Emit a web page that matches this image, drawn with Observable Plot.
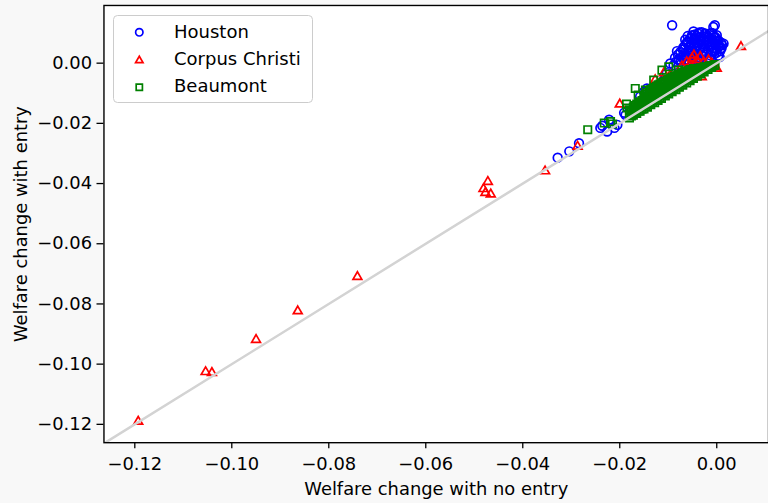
<!DOCTYPE html>
<html>
<head>
<meta charset="utf-8">
<script src="https://cdn.jsdelivr.net/npm/d3@7"></script>
<script src="https://cdn.jsdelivr.net/npm/@observablehq/plot@0.6"></script>
<style>
  body { margin: 0; background: #f8f8f8; }
  #wrap { position: relative; width: 768px; height: 503px; overflow: hidden; font-family: "DejaVu Sans", sans-serif; }
  #wrap > svg.chart { position: absolute; left: 0; top: 0; }
  #wrap > svg#legend { position: absolute; left: 113px; top: 15px; }
</style>
</head>
<body>
<div id="wrap"></div>
<script>
// Series names and colours
const seriesNames = ["Houston", "Corpus Christi", "Beaumont"];
const seriesColors = ["#0000ff", "#ff0000", "#008000"];
const seriesSymbols = ["circle", "triangle", "square"];

// Houston: [welfare change with no entry, welfare change with entry]
const houston = [
  [-0.0328,-0.0314],[-0.0304,-0.0293],[-0.0284,-0.0266],[-0.0240,-0.0215],[-0.0236,-0.0208],
  [-0.0226,-0.0227],[-0.0222,-0.0188],[-0.0211,-0.0215],[-0.0205,-0.0205],[-0.0191,-0.0165],
  [-0.0188,-0.0172],[-0.0171,-0.0155],[-0.0158,-0.0111],[-0.0150,-0.0095],[-0.0144,-0.0084],
  [-0.0137,-0.0096],[-0.0120,-0.0073],[-0.0109,-0.0056],[-0.0103,-0.0033],[-0.0096,-0.0001],
  [-0.0089,-0.0007],[-0.0092,0.0126],[-0.0079,0.0010],[-0.0075,0.0037],[-0.0065,0.0078],
  [-0.0051,0.0093],[-0.0038,0.0098],[-0.0031,0.0103],[-0.0024,0.0098],[-0.0014,0.0099],
  [-0.0007,0.0120],[-0.0004,0.0126],[0.0000,0.0093],[-0.0004,0.0087],[0.0014,0.0065],
  [0.0004,0.0054],
  [-0.0072,0.0020],[-0.0070,0.0045],[-0.0068,0.0030],[-0.0065,0.0060],[-0.0063,0.0012],
  [-0.0061,0.0038],[-0.0059,0.0072],[-0.0057,0.0025],[-0.0055,0.0052],[-0.0053,0.0085],
  [-0.0051,0.0015],[-0.0049,0.0040],[-0.0047,0.0066],[-0.0045,0.0095],[-0.0043,0.0028],
  [-0.0041,0.0055],[-0.0039,0.0078],[-0.0037,0.0010],[-0.0035,0.0045],[-0.0033,0.0088],
  [-0.0031,0.0062],[-0.0029,0.0022],[-0.0027,0.0075],[-0.0025,0.0050],[-0.0023,0.0098],
  [-0.0021,0.0035],[-0.0019,0.0068],[-0.0017,0.0085],[-0.0015,0.0018],[-0.0013,0.0055],
  [-0.0011,0.0040],[-0.0009,0.0078],[-0.0007,0.0092],[-0.0005,0.0030],[-0.0003,0.0062],
  [-0.0001,0.0048],[0.0001,0.0072],[0.0003,0.0025],[0.0005,0.0058],[0.0007,0.0040],
  [0.0009,0.0068],[-0.0060,0.0090],[-0.0048,0.0105],[-0.0036,0.0102],[-0.0010,0.0100],
  [-0.0020,0.0010],[-0.0044,0.0012],[-0.0066,0.0008],[-0.0078,0.0012],[-0.0080,0.0028],
  [-0.0084,0.0005],[0.0010,0.0050],[-0.0026,0.0088],[-0.0040,0.0068],[-0.0054,0.0032],
  [-0.0012,0.0025],[0.0000,0.0035],[-0.0030,0.0040],
  [-0.0074,0.0005],[-0.0069,0.0052],[-0.0064,0.0024],[-0.0062,0.0068],[-0.0058,0.0045],
  [-0.0056,0.0080],[-0.0052,0.0060],[-0.0050,0.0028],[-0.0046,0.0082],[-0.0044,0.0048],
  [-0.0042,0.0090],[-0.0040,0.0020],[-0.0038,0.0060],[-0.0034,0.0075],[-0.0032,0.0012],
  [-0.0028,0.0055],[-0.0026,0.0030],[-0.0022,0.0075],[-0.0020,0.0090],[-0.0018,0.0045],
  [-0.0016,0.0062],[-0.0014,0.0080],[-0.0012,0.0010],[-0.0008,0.0050],[-0.0006,0.0070],
  [-0.0004,0.0040],[-0.0002,0.0085],[0.0002,0.0060],[0.0004,0.0075],[0.0006,0.0020],
  [0.0008,0.0048],[0.0011,0.0060],[-0.0057,0.0008],[-0.0034,0.0005],[-0.0086,0.0018],
  [-0.0082,0.0040]
];

// Corpus Christi
const corpusChristi = [
  [-0.1193,-0.1191],[-0.1054,-0.1026],[-0.1041,-0.1029],[-0.0950,-0.0919],[-0.0864,-0.0824],
  [-0.0741,-0.0710],[-0.0481,-0.0418],[-0.0472,-0.0394],[-0.0477,-0.0431],[-0.0466,-0.0436],
  [-0.0354,-0.0359],[-0.0287,-0.0277],[-0.0200,-0.0137],[0.0050,0.0054],
  [-0.0062,0.0004],[-0.0051,0.0016],[-0.0047,0.0026],[-0.0041,0.0010],[-0.0034,0.0021],
  [-0.0027,0.0004],[-0.0017,0.0010],[-0.0010,-0.0001],[-0.0004,-0.0012],[0.0000,-0.0018],
  [-0.0127,-0.0056],[-0.0109,-0.0033],[-0.0096,-0.0040],[-0.0031,-0.0046],[-0.0055,-0.0003],
  [-0.0072,-0.0010]
];

// Beaumont
const beaumont = [
  [-0.0266,-0.0221],[-0.0232,-0.0199],[-0.0219,-0.0194],[-0.0215,-0.0202],[-0.0186,-0.0136],
  [-0.0185,-0.0149],[-0.0168,-0.0084],[-0.0162,-0.0106],[-0.0147,-0.0089],[-0.0144,-0.0122],
  [-0.0130,-0.0056],[-0.0113,-0.0023],[-0.0099,-0.0012],[-0.0079,-0.0023],
  [-0.0180,-0.0182],[-0.0180,-0.0168],[-0.0180,-0.0155],
  [-0.0176,-0.0175],[-0.0176,-0.0162],
  [-0.0172,-0.0173],[-0.0172,-0.0160],[-0.0172,-0.0146],
  [-0.0168,-0.0166],[-0.0168,-0.0153],[-0.0168,-0.0141],
  [-0.0165,-0.0167],[-0.0165,-0.0150],[-0.0165,-0.0136],
  [-0.0161,-0.0159],[-0.0161,-0.0142],[-0.0161,-0.0133],
  [-0.0158,-0.0160],[-0.0158,-0.0145],[-0.0158,-0.0128],
  [-0.0154,-0.0153],[-0.0154,-0.0136],[-0.0154,-0.0124],
  [-0.0150,-0.0152],[-0.0150,-0.0138],[-0.0150,-0.0121],[-0.0150,-0.0110],
  [-0.0146,-0.0144],[-0.0146,-0.0127],[-0.0146,-0.0116],[-0.0146,-0.0104],
  [-0.0143,-0.0146],[-0.0143,-0.0130],[-0.0143,-0.0113],[-0.0143,-0.0098],
  [-0.0139,-0.0137],[-0.0139,-0.0118],[-0.0139,-0.0101],[-0.0139,-0.0093],
  [-0.0136,-0.0138],[-0.0136,-0.0122],[-0.0136,-0.0105],[-0.0136,-0.0088],
  [-0.0132,-0.0130],[-0.0132,-0.0111],[-0.0132,-0.0093],[-0.0132,-0.0084],
  [-0.0128,-0.0131],[-0.0128,-0.0115],[-0.0128,-0.0097],[-0.0128,-0.0080],
  [-0.0124,-0.0122],[-0.0124,-0.0102],[-0.0124,-0.0086],[-0.0124,-0.0076],
  [-0.0121,-0.0124],[-0.0121,-0.0108],[-0.0121,-0.0090],[-0.0121,-0.0072],
  [-0.0117,-0.0115],[-0.0117,-0.0094],[-0.0117,-0.0078],[-0.0117,-0.0069],
  [-0.0114,-0.0117],[-0.0114,-0.0100],[-0.0114,-0.0083],[-0.0114,-0.0065],
  [-0.0110,-0.0107],[-0.0110,-0.0087],[-0.0110,-0.0070],[-0.0110,-0.0063],
  [-0.0106,-0.0109],[-0.0106,-0.0092],[-0.0106,-0.0076],[-0.0106,-0.0060],
  [-0.0102,-0.0100],[-0.0102,-0.0080],[-0.0102,-0.0064],[-0.0102,-0.0056],
  [-0.0099,-0.0102],[-0.0099,-0.0086],[-0.0099,-0.0069],[-0.0099,-0.0053],
  [-0.0095,-0.0092],[-0.0095,-0.0073],[-0.0095,-0.0057],[-0.0095,-0.0050],
  [-0.0092,-0.0095],[-0.0092,-0.0079],[-0.0092,-0.0062],[-0.0092,-0.0047],
  [-0.0088,-0.0085],[-0.0088,-0.0066],[-0.0088,-0.0051],[-0.0088,-0.0044],
  [-0.0084,-0.0088],[-0.0084,-0.0072],[-0.0084,-0.0056],[-0.0084,-0.0042],
  [-0.0080,-0.0078],[-0.0080,-0.0060],[-0.0080,-0.0044],[-0.0080,-0.0039],
  [-0.0077,-0.0080],[-0.0077,-0.0065],[-0.0077,-0.0050],[-0.0077,-0.0036],
  [-0.0073,-0.0071],[-0.0073,-0.0053],[-0.0073,-0.0039],[-0.0073,-0.0033],
  [-0.0070,-0.0073],[-0.0070,-0.0058],[-0.0070,-0.0043],[-0.0070,-0.0030],
  [-0.0066,-0.0064],[-0.0066,-0.0046],[-0.0066,-0.0033],[-0.0066,-0.0027],
  [-0.0062,-0.0066],[-0.0062,-0.0051],[-0.0062,-0.0037],[-0.0062,-0.0025],
  [-0.0058,-0.0056],[-0.0058,-0.0040],[-0.0058,-0.0027],
  [-0.0055,-0.0058],[-0.0055,-0.0044],[-0.0055,-0.0031],[-0.0055,-0.0021],
  [-0.0051,-0.0049],[-0.0051,-0.0033],[-0.0051,-0.0022],
  [-0.0048,-0.0051],[-0.0048,-0.0038],[-0.0048,-0.0026],[-0.0048,-0.0018],
  [-0.0044,-0.0041],[-0.0044,-0.0027],[-0.0044,-0.0019],
  [-0.0040,-0.0043],[-0.0040,-0.0031],[-0.0040,-0.0020],
  [-0.0036,-0.0034],[-0.0036,-0.0021],
  [-0.0033,-0.0036],[-0.0033,-0.0025],[-0.0033,-0.0015],
  [-0.0029,-0.0027],[-0.0029,-0.0016],
  [-0.0026,-0.0029],[-0.0026,-0.0019],[-0.0026,-0.0012],
  [-0.0022,-0.0020],[-0.0022,-0.0012],
  [-0.0018,-0.0021],[-0.0018,-0.0013],
  [-0.0015,-0.0013],[-0.0015,-0.0009],
  [-0.0011,-0.0014],[-0.0011,-0.0008],
  [-0.0008,-0.0009],
  [-0.0004,-0.0008],[-0.0004,-0.0005]
];

// Axis ticks and titles
const xTicks = [-0.12, -0.10, -0.08, -0.06, -0.04, -0.02, 0.00];
const yTicks = [-0.12, -0.10, -0.08, -0.06, -0.04, -0.02, 0.00];
const xTitle = "Welfare change with no entry";
const yTitle = "Welfare change with entry";

// 45-degree reference line (y = x), clipped to the frame
const diagonal = [-0.13, 0.02];

const fmt = d3.format(".2f");
const markerR = {circle: 4.4, triangle: 3.3, square: 4.2};

const chart = Plot.plot({
  className: "chart",
  width: 772,
  height: 503,
  marginLeft: 104,
  marginRight: 0,
  marginTop: 5,
  marginBottom: 58.5,
  x: {domain: [-0.12636, 0.01067]},
  y: {domain: [-0.1261, 0.01917]},
  style: {background: "transparent", fontFamily: "DejaVu Sans", fontSize: "18px", color: "#000", overflow: "visible"},
  marks: [
    Plot.frame({fill: "white", stroke: "none"}),
    ...[houston, corpusChristi, beaumont].map((series, i) =>
      Plot.dot(series, {
        x: d => d[0], y: d => d[1],
        symbol: seriesSymbols[i], r: markerR[seriesSymbols[i]],
        fill: "none", stroke: seriesColors[i], strokeWidth: 1.7
      })
    ),
    Plot.line(diagonal, {x: d => d, y: d => d, stroke: "#d3d3d3", strokeWidth: 2.5, clip: true}),
    Plot.axisX(xTicks, {tickFormat: fmt, tickSize: 6, tickPadding: 9, strokeWidth: 1.3, label: null}),
    Plot.axisY(yTicks, {tickFormat: fmt, tickSize: 7, tickPadding: 5, strokeWidth: 1.3, label: null}),
    Plot.frame({stroke: "#000", strokeWidth: 1.4}),
    Plot.text([xTitle], {text: d => d, frameAnchor: "bottom", dy: 47, textAnchor: "middle", lineAnchor: "middle", fill: "#000"}),
    Plot.text([yTitle], {text: d => d, frameAnchor: "left", dx: -83, rotate: -90, textAnchor: "middle", lineAnchor: "middle", fill: "#000"})
  ]
});

const wrap = document.getElementById("wrap");
wrap.appendChild(chart);

// Legend box in the upper-left corner
const legend = d3.select(wrap).append("svg")
  .attr("id", "legend")
  .attr("width", 201)
  .attr("height", 89);
legend.append("rect")
  .attr("x", 0.5).attr("y", 0.5)
  .attr("width", 199).attr("height", 87)
  .attr("rx", 4)
  .attr("fill", "rgba(255,255,255,0.8)")
  .attr("stroke", "#cccccc");
const rowCenters = [17.3, 45.5, 72.3];
const rowBaselines = [22.5, 49.7, 76.7];
const symbolTypes = {circle: d3.symbolCircle, triangle: d3.symbolTriangle, square: d3.symbolSquare};
seriesNames.forEach((name, i) => {
  const sym = d3.symbol()
    .type(symbolTypes[seriesSymbols[i]])
    .size(Math.PI * markerR[seriesSymbols[i]] ** 2 * 0.7);
  legend.append("path")
    .attr("d", sym())
    .attr("transform", `translate(26.3,${rowCenters[i]})`)
    .attr("fill", "none")
    .attr("stroke", seriesColors[i])
    .attr("stroke-width", 1.7);
  legend.append("text")
    .attr("x", 61)
    .attr("y", rowBaselines[i])
    .attr("font-family", "DejaVu Sans")
    .attr("font-size", 18)
    .attr("fill", "#000")
    .text(name);
});
</script>
</body>
</html>
